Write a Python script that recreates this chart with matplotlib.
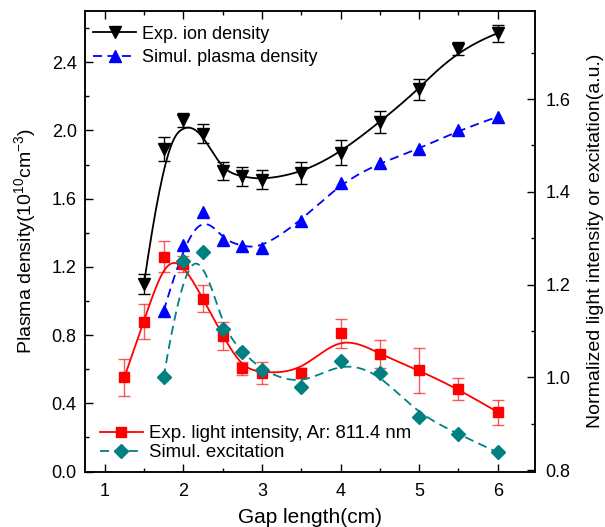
import numpy as np
import matplotlib
matplotlib.use("Agg")
import matplotlib.pyplot as plt
from matplotlib.lines import Line2D
from matplotlib.ticker import MultipleLocator, FormatStrFormatter

plt.rcParams['font.family'] = ['Liberation Sans', 'DejaVu Sans']
plt.rcParams['mathtext.fontset'] = 'custom'
plt.rcParams['mathtext.rm'] = 'Liberation Sans'

# data
gap_ion = [1.5, 1.75, 2.0, 2.25, 2.5, 2.75, 3.0, 3.5, 4.0, 4.5, 5.0, 5.5, 6.0]
ion_density = [1.10, 1.89, 2.06, 1.98, 1.76, 1.73, 1.71, 1.75, 1.87, 2.05, 2.24, 2.48, 2.57]
ion_err = [0.06, 0.07, 0.04, 0.055, 0.053, 0.057, 0.055, 0.062, 0.075, 0.065, 0.06, 0.04, 0.05]

gap_sim = [1.75, 2.0, 2.25, 2.5, 2.75, 3.0, 3.5, 4.0, 4.5, 5.0, 5.5, 6.0]
plasma_sim = [0.94, 1.33, 1.52, 1.36, 1.32, 1.31, 1.47, 1.69, 1.81, 1.89, 2.00, 2.08]
excitation_sim = [1.0, 1.25, 1.27, 1.105, 1.055, 1.015, 0.98, 1.035, 1.01, 0.915, 0.878, 0.838]

gap_light = [1.25, 1.5, 1.75, 2.0, 2.25, 2.5, 2.75, 3.0, 3.5, 4.0, 4.5, 5.0, 5.5, 6.0]
light = [1.0, 1.12, 1.26, 1.245, 1.17, 1.09, 1.02, 1.01, 1.01, 1.095, 1.05, 1.015, 0.975, 0.925]
light_err = [0.04, 0.038, 0.033, 0.017, 0.029, 0.03, 0.014, 0.024, 0.011, 0.031, 0.03, 0.048, 0.023, 0.027]

TEAL = '#008080'


def bspline(xs, ys, n=400):
    # clamped cubic B-spline using the data points as control points
    xs = np.asarray(xs, float)
    ys = np.asarray(ys, float)
    m = len(xs)
    t = np.concatenate([[0, 0, 0], np.linspace(0, 1, m - 2), [1, 1, 1]])
    u = np.linspace(0, 1 - 1e-9, n)
    N = np.zeros((n, len(t) - 1))
    for i in range(len(t) - 1):
        N[:, i] = (u >= t[i]) & (u < t[i + 1])
    for d in range(1, 4):
        Nn = np.zeros((n, len(t) - 1 - d))
        for i in range(len(t) - 1 - d):
            a = t[i + d] - t[i]
            b = t[i + d + 1] - t[i + 1]
            if a > 0:
                Nn[:, i] += (u - t[i]) / a * N[:, i]
            if b > 0:
                Nn[:, i] += (t[i + d + 1] - u) / b * N[:, i + 1]
        N = Nn
    return N @ xs, N @ ys


fig = plt.figure(figsize=(6.05, 5.27), dpi=100)
ax = fig.add_axes([0.1405, 0.1053, 0.7446, 0.8738])
ax2 = ax.twinx()

# left axis: densities
sx, sy = bspline(gap_ion, ion_density)
ax.plot(sx, sy, color='black', lw=1.3)
ax.errorbar(gap_ion, ion_density, yerr=ion_err, fmt='none', ecolor='black',
            elinewidth=1, capsize=4, capthick=1)
ax.plot(gap_ion, ion_density, 'v', color='black', ms=9, ls='none')

sx, sy = bspline(gap_sim, plasma_sim)
ax.plot(sx, sy, color='blue', lw=1.3, dashes=(5, 3))
ax.plot(gap_sim, plasma_sim, '^', color='blue', ms=9, ls='none')

# right axis: normalized light intensity / excitation
sx, sy = bspline(gap_light, light)
ax2.plot(sx, sy, color='red', lw=1.3)
ax2.errorbar(gap_light, light, yerr=light_err, fmt='none', ecolor='red', alpha=0.65,
             elinewidth=1, capsize=4, capthick=1)
ax2.plot(gap_light, light, 's', color='red', ms=7.5, ls='none')

sx, sy = bspline(gap_sim, excitation_sim)
ax2.plot(sx, sy, color=TEAL, lw=1.3, dashes=(5, 3))
ax2.plot(gap_sim, excitation_sim, 'D', color=TEAL, ms=7, ls='none')

ax.set_xlim(0.75, 6.48)
ax.set_ylim(0, 2.70)
ax2.set_ylim(0.797, 1.79)

ax.xaxis.set_major_locator(MultipleLocator(1))
ax.xaxis.set_minor_locator(MultipleLocator(0.5))
ax.yaxis.set_major_locator(MultipleLocator(0.4))
ax.yaxis.set_minor_locator(MultipleLocator(0.2))
ax.yaxis.set_major_formatter(FormatStrFormatter('%.1f'))
ax2.yaxis.set_major_locator(MultipleLocator(0.2))
ax2.yaxis.set_minor_locator(MultipleLocator(0.1))
ax2.yaxis.set_major_formatter(FormatStrFormatter('%.1f'))

ax.tick_params(which='both', direction='in', top=True, labelsize=13, width=1)
ax.tick_params(which='major', length=6)
ax.tick_params(which='minor', length=3)
ax.tick_params(axis='x', pad=8)
ax.tick_params(axis='y', pad=6)
ax2.tick_params(which='both', direction='in', labelsize=13, width=1, pad=7)
ax2.tick_params(which='major', length=6)
ax2.tick_params(which='minor', length=3)
for a in (ax, ax2):
    for s in a.spines.values():
        s.set_linewidth(1.1)

ax.set_xlabel('Gap length(cm)', fontsize=15, labelpad=6)
ax.set_ylabel('Plasma density(10$^{10}$cm$^{-3}$)', fontsize=14, labelpad=9)
ax2.set_ylabel('Normalized light intensity or excitation(a.u.)', fontsize=14,
               rotation=90, labelpad=12)

h_top = [Line2D([], [], color='black', lw=1.3, marker='v', ms=9),
         Line2D([], [], color='blue', lw=1.3, dashes=(5, 3), marker='^', ms=9)]
ax.legend(h_top, ['Exp. ion density', 'Simul. plasma density'],
          loc='upper left', bbox_to_anchor=(0.018, 0.968), frameon=False,
          fontsize=13, numpoints=1, handlelength=2.4, handletextpad=0.3,
          borderaxespad=0, borderpad=0, labelspacing=0.35)

h_bot = [Line2D([], [], color='red', lw=1.3, marker='s', ms=7.5),
         Line2D([], [], color=TEAL, lw=1.3, dashes=(5, 3), marker='D', ms=7)]
ax2.legend(h_bot, ['Exp. light intensity, Ar: 811.4 nm', 'Simul. excitation'],
           loc='lower left', bbox_to_anchor=(0.033, 0.022), frameon=False,
           fontsize=13.4, numpoints=1, handlelength=2.3, handletextpad=0.35,
           borderaxespad=0, borderpad=0, labelspacing=0.12)

fig.savefig('out.png', dpi=100)
